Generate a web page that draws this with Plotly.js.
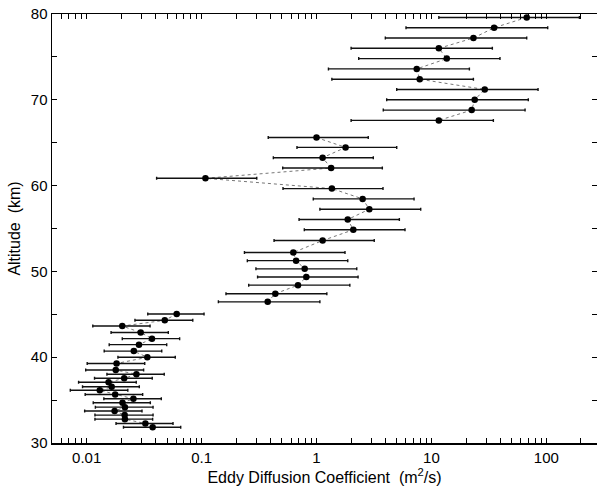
<!DOCTYPE html>
<html>
<head>
<meta charset="utf-8">
<script src="https://cdn.plot.ly/plotly-3.0.1.min.js"></script>
<style>html,body{margin:0;padding:0;background:#fff;}#chart{width:597px;height:491px;}</style>
</head>
<body>
<div id="chart"></div>
<script>
// Upper group (mesosphere, 67-80 km)
const upperAlt = [79.6, 78.4, 77.2, 76.0, 74.8, 73.6, 72.4, 71.2, 70.0, 68.8, 67.6];
const upperK   = [67.5, 35.1, 23.2, 11.6, 13.6, 7.45, 7.91, 29.1, 23.8, 22.4, 11.6];
const upperLo  = [11.6, 6.01, 3.97, 2.0, 2.33, 1.27, 1.36, 4.99, 4.08, 3.81, 2.0];
const upperHi  = [194, 102.8, 67.5, 33.9, 39.5, 21.4, 23.2, 84.7, 69.7, 65.3, 34.6];

// Middle group (46-66 km)
const middleAlt = [65.6, 64.45, 63.25, 62.05, 60.85, 59.65, 58.45, 57.25, 56.05, 54.85, 53.6,
                   52.2, 51.25, 50.3, 49.35, 48.4, 47.4, 46.45];
const middleK   = [1.0, 1.79, 1.13, 1.34, 0.108, 1.36, 2.52, 2.88, 1.87, 2.09, 1.13,
                   0.628, 0.664, 0.789, 0.815, 0.690, 0.438, 0.376];
const middleLo  = [0.380, 0.676, 0.421, 0.508, 0.0406, 0.511, 0.937, 1.07, 0.705, 0.783, 0.427,
                   0.236, 0.250, 0.297, 0.307, 0.257, 0.163, 0.140];
const middleHi  = [2.82, 4.99, 3.12, 3.74, 0.302, 3.79, 7.06, 8.07, 5.26, 5.89, 3.18,
                   1.77, 1.87, 2.24, 2.30, 1.95, 1.23, 1.07];

// Lower group (31-45 km)
const lowerAlt = [45.04, 44.30, 43.63, 42.88, 42.16, 41.46, 40.71, 39.99, 39.27, 38.50, 38.02, 37.54,
                  37.08, 36.56, 36.14, 35.65, 35.15, 34.69, 34.18, 33.73, 33.25, 32.78, 32.27, 31.83];
const lowerK   = [0.0607, 0.0478, 0.0204, 0.0295, 0.0370, 0.0285, 0.0257, 0.0337, 0.0182, 0.0179, 0.0271, 0.0212,
                  0.0155, 0.0165, 0.0130, 0.0177, 0.0255, 0.0205, 0.0215, 0.0175, 0.0214, 0.0215, 0.0324, 0.0375];
const lowerLo  = [0.0340, 0.0263, 0.0113, 0.0163, 0.0204, 0.0157, 0.0142, 0.0187, 0.0101, 0.0098, 0.0150, 0.0117,
                  0.0085, 0.0092, 0.0072, 0.0097, 0.0141, 0.0114, 0.0119, 0.0096, 0.0118, 0.0118, 0.0180, 0.0209];
const lowerHi  = [0.105, 0.0838, 0.0356, 0.0513, 0.0644, 0.0497, 0.0450, 0.0590, 0.0320, 0.0313, 0.0473, 0.0372,
                  0.0270, 0.0287, 0.0228, 0.0307, 0.0446, 0.0358, 0.0378, 0.0303, 0.0378, 0.0375, 0.0564, 0.0658];

const xMajorTicks = [0.01, 0.1, 1, 10, 100];
const xTickLabels = ['0.01', '0.1', '1', '10', '100'];
const yMajorTicks = [30, 40, 50, 60, 70, 80];

function minorLogTicks(lo, hi) {
  const out = [];
  for (let e = Math.floor(Math.log10(lo)); e <= Math.ceil(Math.log10(hi)); e++) {
    for (let d = 1; d <= 9; d++) {
      const v = d * Math.pow(10, e);
      if (v >= lo && v <= hi) out.push(v);
    }
  }
  return out;
}

function group(alt, k, lo, hi) {
  const plus = k.map((v, i) => hi[i] - v);
  const minus = k.map((v, i) => v - lo[i]);
  return [
    {
      x: k, y: alt, type: 'scatter', mode: 'lines',
      line: {color: '#777', width: 1, dash: 'dot'},
      hoverinfo: 'skip', showlegend: false
    },
    {
      x: k, y: alt, type: 'scatter', mode: 'markers',
      marker: {color: '#000', size: 6.5},
      error_x: {type: 'data', symmetric: false, array: plus, arrayminus: minus,
                color: '#111', thickness: 1.4, width: 1.5},
      showlegend: false
    }
  ];
}

const traces = [].concat(
  group(upperAlt, upperK, upperLo, upperHi),
  group(middleAlt, middleK, middleLo, middleHi),
  group(lowerAlt, lowerK, lowerLo, lowerHi)
);

const font = {family: 'Liberation Sans, Arial, sans-serif', size: 14, color: '#000'};

const layout = {
  width: 597, height: 491,
  margin: {l: 52, r: 0, t: 14, b: 48},
  paper_bgcolor: '#fff', plot_bgcolor: '#fff',
  font: font,
  showlegend: false,
  xaxis: {
    type: 'log',
    range: [Math.log10(0.00499), Math.log10(276)],
    tickmode: 'array', tickvals: xMajorTicks, ticktext: xTickLabels,
    ticks: 'inside', ticklen: 5, tickwidth: 1, tickcolor: '#000',
    minor: {tickmode: 'array', tickvals: minorLogTicks(0.005, 300), ticks: 'inside', ticklen: 5, tickwidth: 1, tickcolor: '#000', showgrid: false},
    showline: true, linecolor: '#000', linewidth: 1.5, mirror: 'ticks',
    showgrid: false, zeroline: false,
    tickfont: {family: font.family, size: 15},
    title: {text: 'Eddy Diffusion Coefficient  (m<sup>2</sup>/s)', font: {family: font.family, size: 16}, standoff: 7}
  },
  yaxis: {
    range: [30, 80],
    tickmode: 'array', tickvals: yMajorTicks,
    ticks: 'inside', ticklen: 5, tickwidth: 1, tickcolor: '#000',
    minor: {dtick: 5, tick0: 30, ticks: 'inside', ticklen: 5, tickwidth: 1, tickcolor: '#000', showgrid: false},
    showline: true, linecolor: '#000', linewidth: 1.5, mirror: 'ticks',
    showgrid: false, zeroline: false,
    tickfont: {family: font.family, size: 15},
    title: {text: 'Altitude  (km)', font: {family: font.family, size: 16}, standoff: 6}
  }
};

Plotly.newPlot('chart', traces, layout, {displayModeBar: false, staticPlot: true});
</script>
</body>
</html>
